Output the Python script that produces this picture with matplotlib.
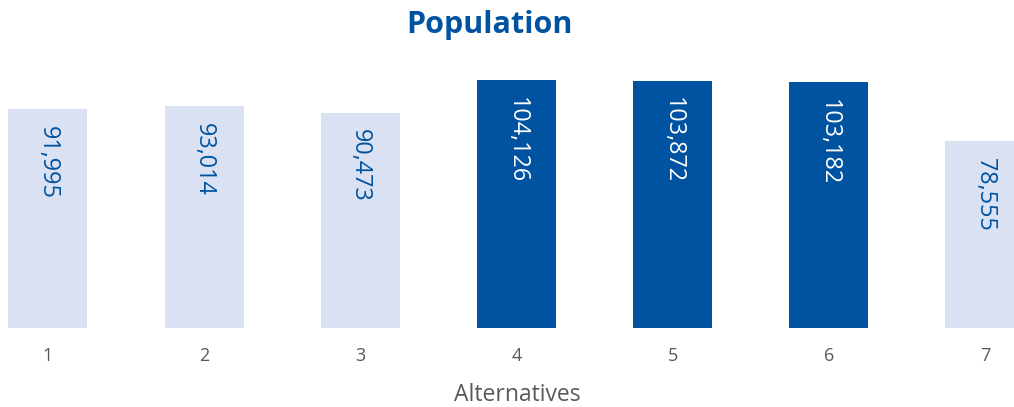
import matplotlib
matplotlib.use("Agg")
import matplotlib.pyplot as plt

categories = ["1", "2", "3", "4", "5", "6", "7"]
values = [91995, 93014, 90473, 104126, 103872, 103182, 78555]
highlight = [False, False, False, True, True, True, False]

DARK = "#0053A0"
LIGHT = "#D9E1F2"
GRAY = "#595959"

plt.rcParams['font.family'] = ['Open Sans', 'DejaVu Sans']

fig = plt.figure(figsize=(10.14, 4.07), dpi=100)
ax = fig.add_axes([0, 79/407, 1, (407-79-60)/407])
x = list(range(1, len(categories) + 1))
colors = [DARK if h else LIGHT for h in highlight]
ax.bar(x, values, width=0.506, color=colors)
ax.set_xlim(0.693, 7.186)
ax.set_ylim(0, 268 / 2.3817 * 1000)
for xi, v, h in zip(x, values, highlight):
    ax.annotate(f"{v:,}", (xi, v), xytext=(0, -12), textcoords="offset points",
                rotation=-90, ha="center", va="top", fontsize=16.8,
                color="white" if h else DARK)
for s in ax.spines.values():
    s.set_visible(False)
ax.set_yticks([])
ax.set_xticks(x)
ax.set_xticklabels(categories, fontsize=13, color=GRAY)
ax.tick_params(axis='x', length=0, pad=14)
fig.text(517/1014, 1 - 395/407, "Alternatives", ha="center", va="center", fontsize=16.5, color=GRAY)
fig.text(489/1014, 1 - 25/407, "Population", ha="center", va="center", fontsize=22, fontweight="bold", color=DARK)
fig.savefig("out.png", dpi=100)
